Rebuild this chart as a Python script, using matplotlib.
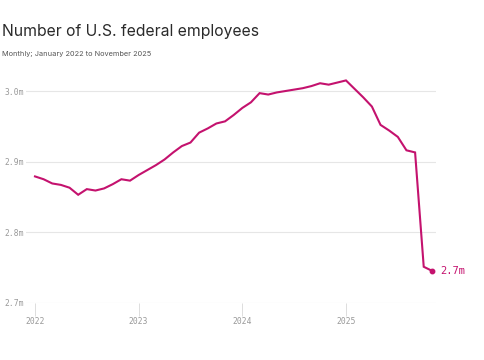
import numpy as np
import matplotlib
matplotlib.use("Agg")
import matplotlib.pyplot as plt

# monthly federal employment, millions, Jan 2022 .. Nov 2025
employees = [
    2.879, 2.875, 2.869, 2.867, 2.863, 2.853, 2.861, 2.859, 2.862, 2.868, 2.875, 2.873,  # 2022
    2.881, 2.888, 2.895, 2.903, 2.913, 2.922, 2.927, 2.941, 2.947, 2.954, 2.957, 2.966,  # 2023
    2.976, 2.984, 2.997, 2.995, 2.998, 3.000, 3.002, 3.004, 3.007, 3.011, 3.009, 3.012,  # 2024
    3.015, 3.003, 2.991, 2.978, 2.952, 2.944, 2.935, 2.916, 2.913, 2.751, 2.745,         # 2025
]
year_labels = ["2022", "2023", "2024", "2025"]
y_ticks = [2.7, 2.8, 2.9, 3.0]
y_tick_labels = ["2.7m", "2.8m", "2.9m", "3.0m"]
end_label = "2.7m"

color = "#c4126e"
mono = "DejaVu Sans Mono"

months = np.arange(len(employees))

fig = plt.figure(figsize=(4.85, 3.6), dpi=100)
ax = fig.add_axes([0.0536, 0.159, 0.845, 0.647])

ax.plot(months, employees, color=color, lw=1.5, solid_joinstyle="miter")
ax.plot(months[-1], employees[-1], "o", color=color, ms=3.2)
ax.annotate(end_label, (months[-1], employees[-1]), xytext=(6, 0),
            textcoords="offset points", va="center", ha="left",
            color=color, fontsize=7.5, family=mono)

ax.set_xlim(-1.04, 46.4)
ax.set_ylim(2.7, 3.03)

ax.set_yticks(y_ticks)
ax.set_yticklabels(y_tick_labels, family=mono, fontsize=5.8, color="#999999")
ax.tick_params(axis="y", length=0, pad=1.5)
ax.grid(axis="y", color="#e6e6e6", lw=0.8)

ax.set_xticks([0, 12, 24, 36])
ax.set_xticklabels(year_labels, family=mono, fontsize=5.8, color="#999999")
ax.tick_params(axis="x", direction="out", length=9.5, width=0.7, color="#dddddd", pad=0.5)

for s in ax.spines.values():
    s.set_visible(False)
ax.set_axisbelow(True)

fig.text(0.004, 0.912, "Number of U.S. federal employees", fontsize=11.3,
         family=["Inter", "DejaVu Sans"], color="#2a2a2a", va="center")
fig.text(0.004, 0.85, "Monthly; January 2022 to November 2025", fontsize=5.3,
         family=["Inter", "DejaVu Sans"], color="#555555", va="center")

fig.savefig("out.png", dpi=100)
